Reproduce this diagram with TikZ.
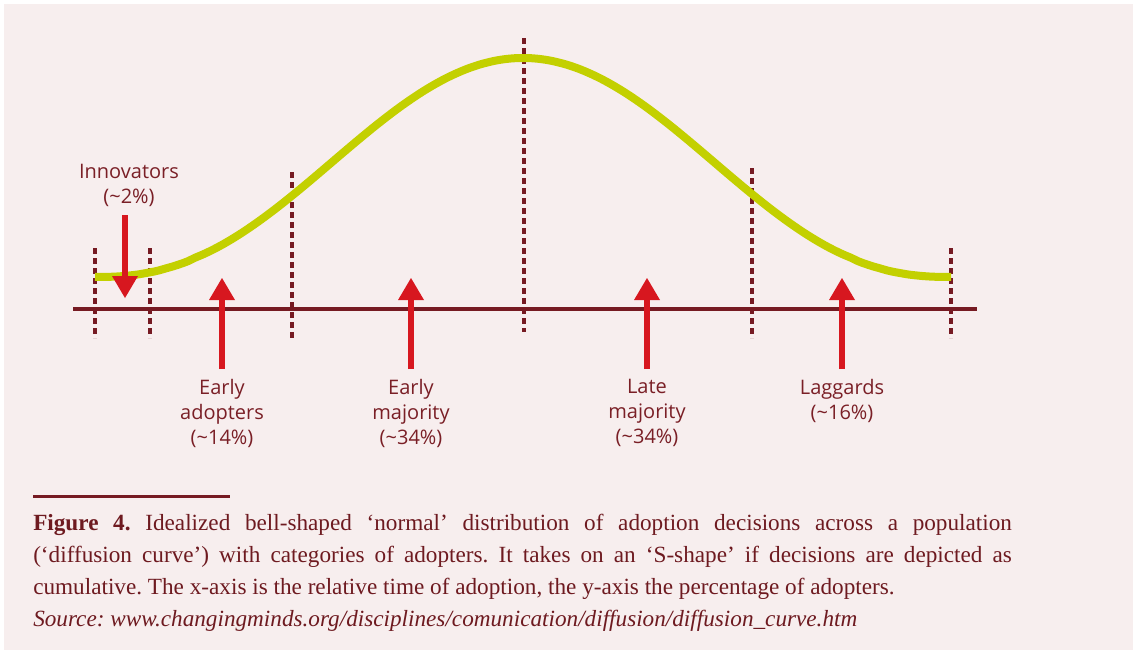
\documentclass[tikz,border=0pt]{standalone}
\usepackage{fontspec}
\setmainfont{Liberation Serif}
\newfontfamily\labelfont{Open Sans}
\usetikzlibrary{arrows.meta}
\definecolor{bgpink}{HTML}{F7EEEE}
\definecolor{maroon}{HTML}{761A22}
\definecolor{labeltext}{HTML}{7A1F26}
\definecolor{captext}{HTML}{6E1A20}
\definecolor{bellgreen}{HTML}{C3D000}
\definecolor{arrowred}{HTML}{D7171F}
\tikzset{
  axisline/.style={draw=maroon, line width=2.3pt},
  divider/.style={draw=maroon, line width=2.6pt, dash pattern=on 4.2pt off 3.3pt},
  bell/.style={draw=bellgreen, line width=6pt},
  catarrow/.style={draw=arrowred, line width=4.1pt, -{Triangle[width=19.5pt,length=16.5pt,line width=0pt]}},
  catlabel/.style={text=labeltext, font=\labelfont\fontsize{15pt}{18.75pt}\selectfont, align=center, inner sep=0pt},
}
\begin{document}
\begin{tikzpicture}[x=0.75pt,y=-0.75pt]
\useasboundingbox (0,0) rectangle (1137,654);
\fill[white] (0,0) rectangle (1137,654);
\fill[bgpink] (4,4) rectangle (1133,650);

% axis
\coordinate (axL) at (73,309);
\coordinate (axR) at (977,309);
\draw[axisline] (axL) -- (axR);

% dividers
\foreach \n/\x/\t/\b in {d1/95/248/338, d2/150/248/338, d3/292/172/338, d4/524/38/332, d5/752/168/338, d6/951/248/338}{
  \coordinate (\n-top) at (\x,\t);
  \coordinate (\n-bot) at (\x,\b);
  \draw[divider] (\n-top) -- (\n-bot);
}

% bell curve
\draw[bell] plot[domain=95:951, samples=121, smooth]
  (\x, {277 - 219*exp(1.2*ln(max(0.002,(1+cos((\x-523)/428*180))/2)))});

% labels
\node[catlabel] (innov) at (129,185) {Innovators\\(\textasciitilde2\%)};
\node[catlabel] (eadopt) at (222,413) {Early\\adopters\\(\textasciitilde14\%)};
\node[catlabel] (emaj) at (411,413) {Early\\majority\\(\textasciitilde34\%)};
\node[catlabel] (lmaj) at (647,413) {Late\\majority\\(\textasciitilde34\%)};
\node[catlabel] (lagg) at (842,401) {Laggards\\(\textasciitilde16\%)};

% arrows
\coordinate (innov-tail) at (125,215);
\coordinate (innov-tip) at (125,298);
\draw[catarrow] (innov-tail) -- (innov-tip);
\foreach \n/\x in {eadopt/222, emaj/411, lmaj/647, lagg/842}{
  \coordinate (\n-tail) at (\x,369);
  \coordinate (\n-tip) at (\x,278);
  \draw[catarrow] (\n-tail) -- (\n-tip);
}

% caption
\coordinate (ruleL) at (33,496);
\coordinate (ruleR) at (230,496);
\draw[draw=maroon, line width=2.25pt] (ruleL) -- (ruleR);
\node[anchor=north west, inner sep=0pt, text width=734pt, align=justify, text=captext,
      font=\fontsize{17.4pt}{24pt}\selectfont] (caption) at (33,514)
{\frenchspacing\hyphenpenalty=10000\exhyphenpenalty=10000
\textbf{Figure 4.} Idealized bell-shaped ‘normal’ distribution of adoption decisions across a population\linebreak
(‘diffusion curve’) with categories of adopters. It takes on an ‘S-shape’ if decisions are depicted as\linebreak
cumulative. The x-axis is the relative time of adoption, the y-axis the percentage of adopters.\par
\textit{Source: www.changingminds.org/disciplines/comunication/diffusion/diffusion\_curve.htm}};
\end{tikzpicture}
\end{document}
